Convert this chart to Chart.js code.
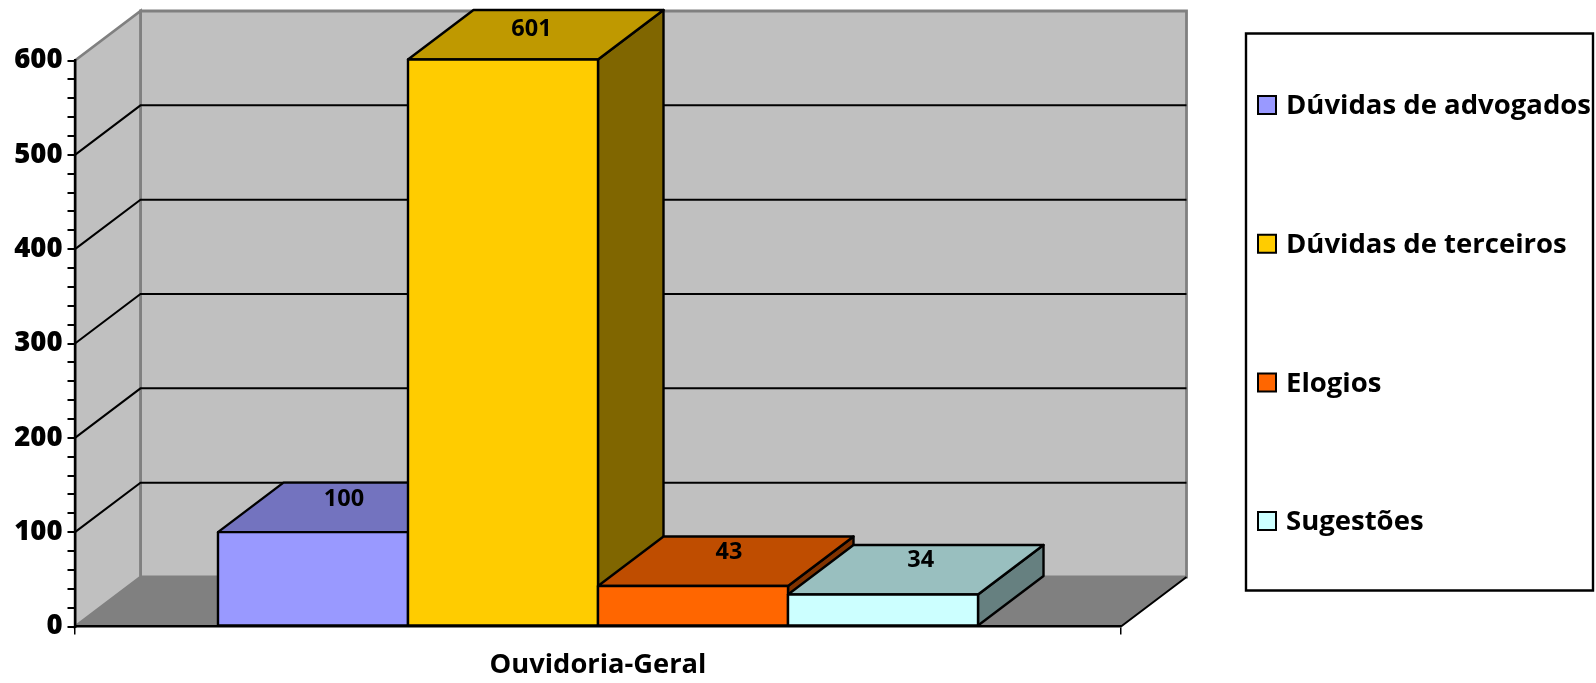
<!DOCTYPE html>
<html lang="pt">
  <head>
    <meta charset="UTF-8" />
    <script src="https://cdnjs.cloudflare.com/ajax/libs/Chart.js/4.4.1/chart.umd.min.js"></script>
    <title>Ouvidoria-Geral</title>
    <style>
      body { margin: 0; background: #fff; }
      canvas { display: block; }
    </style>
  </head>
  <body>
    <canvas id="myChart" width="1596" height="683"></canvas>
  </body>
  <script>
    const categories = ["Ouvidoria-Geral"];
    const seriesNames = ["Dúvidas de advogados", "Dúvidas de terceiros", "Elogios", "Sugestões"];
    const duvidasAdvogados = [100];
    const duvidasTerceiros = [601];
    const elogios = [43];
    const sugestoes = [34];
    const seriesValues = [duvidasAdvogados, duvidasTerceiros, elogios, sugestoes];
    const majorStep = 100;
    const minorStep = 20;
    const axisMax = 600;

    const frontColors = ["#9999FF", "#FFCC00", "#FF6600", "#CCFFFF"];
    const topColors = ["#7373BF", "#BF9900", "#BF4D00", "#99BFBF"];
    const sideColors = ["#4D4D80", "#806600", "#803300", "#668080"];
    // where each value label sits on its bar's top face
    const labelDx = [31, 28.5, 36, 37.7];
    const labelDy = [-33, -30.5, -34, -34.5];

    const FONT = '"Open Sans"';
    const DX = 65.5;
    const DY = 49.5;
    const EDGE = 2.4;

    function poly(ctx, pts, fill, stroke, lw) {
      ctx.beginPath();
      pts.forEach((p, i) => (i ? ctx.lineTo(p[0], p[1]) : ctx.moveTo(p[0], p[1])));
      ctx.closePath();
      if (fill) {
        ctx.fillStyle = fill;
        ctx.fill();
      }
      if (stroke) {
        ctx.strokeStyle = stroke;
        ctx.lineWidth = lw;
        ctx.stroke();
      }
    }

    // walls and floor of the fake 3d box, behind the axes
    const walls = {
      id: "walls",
      beforeDraw(chart) {
        const { ctx, chartArea: a, scales } = chart;
        const y = scales.y;
        ctx.save();
        poly(ctx, [[a.left + DX, a.top - DY], [a.right + DX, a.top - DY], [a.right + DX, a.bottom - DY], [a.left + DX, a.bottom - DY]], "#C0C0C0", "#808080", 2.8);
        poly(ctx, [[a.left, a.top], [a.left + DX, a.top - DY], [a.left + DX, a.bottom - DY], [a.left, a.bottom]], "#C0C0C0", "#808080", 2.8);
        poly(ctx, [[a.left, a.bottom], [a.right, a.bottom], [a.right + DX, a.bottom - DY], [a.left + DX, a.bottom - DY]], "#808080", null);
        ctx.strokeStyle = "#000";
        ctx.lineWidth = 2;
        ctx.beginPath();
        ctx.moveTo(a.right, a.bottom);
        ctx.lineTo(a.right + DX, a.bottom - DY);
        y.ticks.forEach((t) => {
          if (t.value % majorStep || t.value === 0 || t.value === axisMax) return;
          const py = y.getPixelForValue(t.value);
          ctx.moveTo(a.left, py);
          ctx.lineTo(a.left + DX, py - DY);
          ctx.lineTo(a.right + DX, py - DY);
        });
        ctx.stroke();
        ctx.restore();
      },
    };

    // bars are painted left to right so each one covers the depth of the previous
    const bars3d = {
      id: "bars3d",
      beforeDatasetDraw() {
        return false;
      },
      afterDatasetsDraw(chart) {
        const { ctx } = chart;
        ctx.save();
        ctx.lineJoin = "round";
        chart.data.datasets.forEach((ds, i) => {
          const bar = chart.getDatasetMeta(i).data[0];
          const l = bar.x - bar.width / 2;
          const r = bar.x + bar.width / 2;
          const t = bar.y;
          const b = bar.base;
          poly(ctx, [[r, t], [r + DX, t - DY], [r + DX, b - DY], [r, b]], sideColors[i], "#000", EDGE);
          poly(ctx, [[l, t], [l + DX, t - DY], [r + DX, t - DY], [r, t]], topColors[i], "#000", EDGE);
          bar.draw(ctx);
          poly(ctx, [[l, t], [r, t], [r, b], [l, b]], null, "#000", EDGE);
          ctx.fillStyle = "#000";
          ctx.font = "bold 23.5px " + FONT;
          ctx.textAlign = "center";
          ctx.textBaseline = "middle";
          ctx.fillText(ds.data[0], bar.x + labelDx[i], bar.y + labelDy[i]);
        });
        ctx.restore();
      },
    };

    const legendBox = {
      id: "legendBox",
      afterDraw(chart) {
        const { ctx } = chart;
        ctx.save();
        poly(ctx, [[1246, 33.5], [1593, 33.5], [1593, 590.5], [1246, 590.5]], null, "#000", 2.4);
        ctx.font = "bold 27.5px " + FONT;
        ctx.textAlign = "left";
        ctx.textBaseline = "middle";
        chart.data.datasets.forEach((ds, i) => {
          const cy = 105 + i * 138.7;
          poly(ctx, [[1258, cy - 9], [1276, cy - 9], [1276, cy + 9], [1258, cy + 9]], ds.backgroundColor, "#000", 2);
          ctx.fillStyle = "#000";
          ctx.fillText(ds.label, 1286, cy + 1.5);
        });
        ctx.restore();
      },
    };

    new Chart("myChart", {
      type: "bar",
      data: {
        labels: categories,
        datasets: seriesNames.map((name, i) => ({
          label: name,
          data: seriesValues[i],
          backgroundColor: frontColors[i],
          borderWidth: 0,
          categoryPercentage: 0.7266,
          barPercentage: 1,
        })),
      },
      plugins: [walls, bars3d, legendBox],
      options: {
        responsive: false,
        animation: false,
        layout: { padding: { top: 60.5, right: 475, left: 0, bottom: 0 } },
        plugins: { legend: { display: false }, tooltip: { enabled: false } },
        scales: {
          x: {
            afterFit(scale) {
              scale.height = 56.5;
            },
            border: { color: "#000", width: 2.4 },
            grid: { drawOnChartArea: false, color: "#000", tickColor: "#000", tickLength: 8, lineWidth: 1.5 },
            ticks: { color: "#000", padding: 14, font: { family: FONT, weight: "bold", size: 27.3 } },
          },
          y: {
            min: 0,
            max: axisMax,
            afterFit(scale) {
              scale.width = 75;
            },
            border: { color: "#000", width: 2.4 },
            grid: { drawOnChartArea: false, tickColor: "#000", tickLength: 7.5, lineWidth: 2 },
            ticks: {
              stepSize: minorStep,
              autoSkip: false,
              color: "#000",
              padding: 5,
              font: { family: FONT, weight: "800", size: 27.5 },
              callback: (v) => (v % majorStep === 0 ? v : ""),
            },
          },
        },
      },
    });
  </script>
</html>
